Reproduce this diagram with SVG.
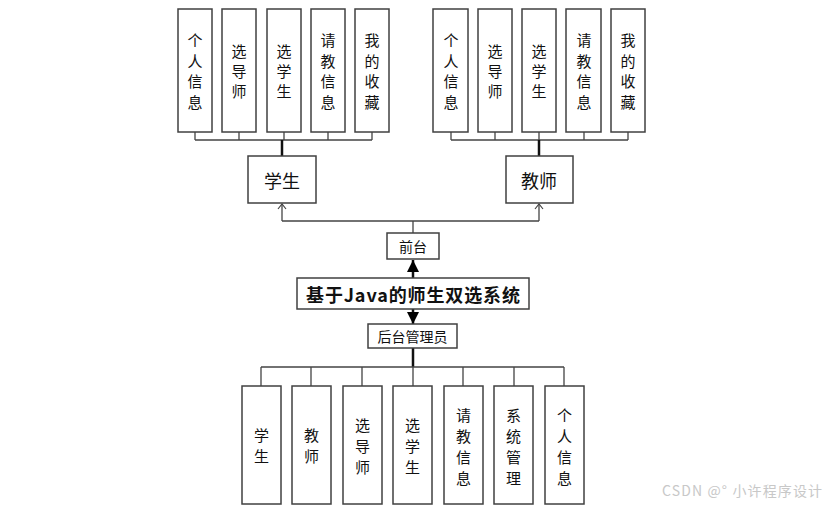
<svg xmlns="http://www.w3.org/2000/svg" width="836" height="506" viewBox="0 0 836 506">
<defs>
<style>
.box{fill:#fff;stroke:#404040;stroke-width:1.5}
.t{font-family:"Noto Sans CJK SC","Microsoft YaHei",sans-serif;fill:#111;text-anchor:middle;dominant-baseline:central}
.s15{font-size:15px}
.s18{font-size:18px}
.s14{font-size:14px}
.ln{stroke:#444;stroke-width:1.3;fill:none}
.thk{stroke:#111;stroke-width:2.5;fill:none}
</style>
<marker id="open" markerWidth="10" markerHeight="10" refX="7" refY="5" orient="auto" markerUnits="userSpaceOnUse" viewBox="0 0 10 10">
<path d="M2,1 L7,5 L2,9" fill="none" stroke="#444" stroke-width="1.2"/>
</marker>
<marker id="fill" markerWidth="12" markerHeight="12" refX="12" refY="6" orient="auto" markerUnits="userSpaceOnUse" viewBox="0 0 12 12">
<path d="M0,0 L12,6 L0,12 Z" fill="#000"/>
</marker>
</defs>
<rect width="836" height="506" fill="#fff"/>
<g id="connectors">
<path class="ln" d="M195,132V140M239,132V140M284,132V140M328,132V140M372,132V140M195,140H372"/>
<path class="thk" d="M282,140V156"/>
<path class="ln" d="M451,132V140M495,132V140M539,132V140M584,132V140M628,132V140M451,140H628"/>
<path class="thk" d="M539,140V156"/>
<path class="ln" d="M413,233V221M282,221H539"/>
<path class="ln" d="M282,221V204" marker-end="url(#open)"/>
<path class="ln" d="M539,221V204" marker-end="url(#open)"/>
<path class="thk" d="M413,278V260" marker-end="url(#fill)"/>
<path class="thk" d="M413,309V324" marker-end="url(#fill)"/>
<path class="thk" d="M413,348V367"/>
<path class="ln" d="M261,367H564M261,367V386M311,367V386M362,367V386M413,367V386M463,367V386M514,367V386M564,367V386"/>
</g>
<g id="s1"><rect class="box" x="178" y="9" width="34" height="123"/><text class="t s15"><tspan x="195" y="39">个</tspan><tspan x="195" y="60">人</tspan><tspan x="195" y="80">信</tspan><tspan x="195" y="101">息</tspan></text></g>
<g id="s2"><rect class="box" x="222" y="9" width="34" height="123"/><text class="t s15"><tspan x="239" y="50">选</tspan><tspan x="239" y="70">导</tspan><tspan x="239" y="90">师</tspan></text></g>
<g id="s3"><rect class="box" x="267" y="9" width="34" height="123"/><text class="t s15"><tspan x="284" y="50">选</tspan><tspan x="284" y="70">学</tspan><tspan x="284" y="90">生</tspan></text></g>
<g id="s4"><rect class="box" x="311" y="9" width="34" height="123"/><text class="t s15"><tspan x="328" y="39">请</tspan><tspan x="328" y="60">教</tspan><tspan x="328" y="80">信</tspan><tspan x="328" y="101">息</tspan></text></g>
<g id="s5"><rect class="box" x="355" y="9" width="34" height="123"/><text class="t s15"><tspan x="372" y="39">我</tspan><tspan x="372" y="60">的</tspan><tspan x="372" y="80">收</tspan><tspan x="372" y="101">藏</tspan></text></g>
<g id="t1"><rect class="box" x="433" y="9" width="35" height="123"/><text class="t s15"><tspan x="451" y="39">个</tspan><tspan x="451" y="60">人</tspan><tspan x="451" y="80">信</tspan><tspan x="451" y="101">息</tspan></text></g>
<g id="t2"><rect class="box" x="478" y="9" width="34" height="123"/><text class="t s15"><tspan x="495" y="50">选</tspan><tspan x="495" y="70">导</tspan><tspan x="495" y="90">师</tspan></text></g>
<g id="t3"><rect class="box" x="522" y="9" width="34" height="123"/><text class="t s15"><tspan x="539" y="50">选</tspan><tspan x="539" y="70">学</tspan><tspan x="539" y="90">生</tspan></text></g>
<g id="t4"><rect class="box" x="566" y="9" width="35" height="123"/><text class="t s15"><tspan x="584" y="39">请</tspan><tspan x="584" y="60">教</tspan><tspan x="584" y="80">信</tspan><tspan x="584" y="101">息</tspan></text></g>
<g id="t5"><rect class="box" x="611" y="9" width="34" height="123"/><text class="t s15"><tspan x="628" y="39">我</tspan><tspan x="628" y="60">的</tspan><tspan x="628" y="80">收</tspan><tspan x="628" y="101">藏</tspan></text></g>
<g id="student"><rect class="box" x="248" y="156" width="68" height="47"/><text class="t s18" x="282" y="180">学生</text></g>
<g id="teacher"><rect class="box" x="506" y="156" width="67" height="47"/><text class="t s18" x="539" y="180">教师</text></g>
<g id="front"><rect class="box" x="387" y="233" width="52" height="26"/><text class="t s14" x="413" y="246">前台</text></g>
<g id="title"><rect class="box" x="297" y="278" width="232" height="31"/><text class="t s18" x="413" y="294" font-weight="bold" textLength="214" lengthAdjust="spacing">基于Java的师生双选系统</text></g>
<g id="admin"><rect class="box" x="368" y="324" width="89" height="24"/><text class="t s14" x="412.5" y="336">后台管理员</text></g>
<g id="a1"><rect class="box" x="242" y="386" width="39" height="118"/><text class="t s15"><tspan x="261.5" y="434">学</tspan><tspan x="261.5" y="455">生</tspan></text></g>
<g id="a2"><rect class="box" x="292" y="386" width="39" height="118"/><text class="t s15"><tspan x="311.5" y="434">教</tspan><tspan x="311.5" y="455">师</tspan></text></g>
<g id="a3"><rect class="box" x="343" y="386" width="39" height="118"/><text class="t s15"><tspan x="362.5" y="424">选</tspan><tspan x="362.5" y="445">导</tspan><tspan x="362.5" y="466">师</tspan></text></g>
<g id="a4"><rect class="box" x="393" y="386" width="39" height="118"/><text class="t s15"><tspan x="412.5" y="424">选</tspan><tspan x="412.5" y="445">学</tspan><tspan x="412.5" y="466">生</tspan></text></g>
<g id="a5"><rect class="box" x="444" y="386" width="39" height="118"/><text class="t s15"><tspan x="463.5" y="414">请</tspan><tspan x="463.5" y="435">教</tspan><tspan x="463.5" y="456">信</tspan><tspan x="463.5" y="477">息</tspan></text></g>
<g id="a6"><rect class="box" x="494" y="386" width="39" height="118"/><text class="t s15"><tspan x="513.5" y="414">系</tspan><tspan x="513.5" y="435">统</tspan><tspan x="513.5" y="456">管</tspan><tspan x="513.5" y="477">理</tspan></text></g>
<g id="a7"><rect class="box" x="545" y="386" width="39" height="118"/><text class="t s15"><tspan x="564.5" y="414">个</tspan><tspan x="564.5" y="435">人</tspan><tspan x="564.5" y="456">信</tspan><tspan x="564.5" y="477">息</tspan></text></g>
<text x="662" y="496" font-family="Noto Sans CJK SC,sans-serif" font-size="14" fill="#c8c8c8" textLength="160" lengthAdjust="spacing">CSDN @° 小许程序设计</text>
</svg>
